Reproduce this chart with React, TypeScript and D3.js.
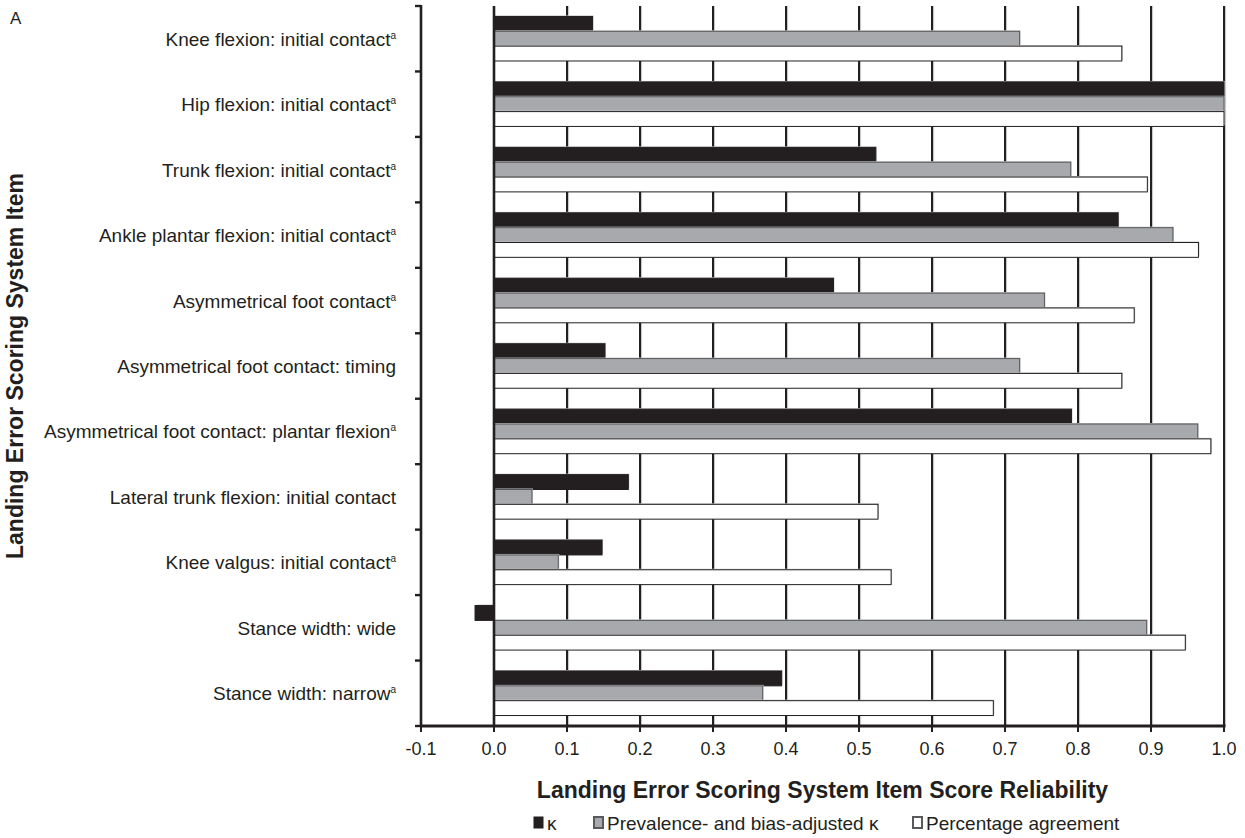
import React from "react";
import * as d3 from "d3";

// LESS item names (top to bottom) and whether they carry the "a" footnote marker
const items: string[] = [
  "Knee flexion: initial contact",
  "Hip flexion: initial contact",
  "Trunk flexion: initial contact",
  "Ankle plantar flexion: initial contact",
  "Asymmetrical foot contact",
  "Asymmetrical foot contact: timing",
  "Asymmetrical foot contact: plantar flexion",
  "Lateral trunk flexion: initial contact",
  "Knee valgus: initial contact",
  "Stance width: wide",
  "Stance width: narrow",
];
const footnoted: boolean[] = [true, true, true, true, true, false, true, false, true, false, true];

// Reliability statistics per item
const kappa: number[] = [0.135, 1.0, 0.523, 0.855, 0.465, 0.152, 0.791, 0.184, 0.148, -0.026, 0.394];
const pabak: number[] = [0.72, 1.0, 0.79, 0.93, 0.754, 0.72, 0.964, 0.052, 0.088, 0.894, 0.368];
const agreement: number[] = [0.86, 1.0, 0.895, 0.965, 0.877, 0.86, 0.982, 0.526, 0.544, 0.947, 0.684];

const xTicks: number[] = [-0.1, 0, 0.1, 0.2, 0.3, 0.4, 0.5, 0.6, 0.7, 0.8, 0.9, 1.0];
const seriesKeys: string[] = ["kappa", "pabak", "agreement"];
const seriesLabels: string[] = ["κ", "Prevalence- and bias-adjusted κ", "Percentage agreement"];

const INK = "#231f20";
const GREY = "#a7a9ac";
const EDGE = "#58595b";
const SHADE = "#c4c5c7";
const FONT = "'Liberation Sans', Arial, Helvetica, sans-serif";

const fills: Record<string, string> = { kappa: INK, pabak: GREY, agreement: "#ffffff" };
const strokes: Record<string, string> = { kappa: INK, pabak: EDGE, agreement: INK };

export default function App() {
  const width = 1245;
  const height = 838;
  const left = 421;
  const right = 1224;
  const top = 6;
  const bottom = 726;

  const x = d3.scaleLinear().domain([-0.1, 1.0]).range([left, right]);
  const y = d3
    .scaleBand<string>()
    .domain(items)
    .range([top, bottom])
    .paddingInner(0.32)
    .paddingOuter(0.16);
  const sub = d3.scaleBand<string>().domain(seriesKeys).range([0, y.bandwidth()]);
  const step = y.step();

  const rows = items.map((name, i) => ({
    name,
    values: { kappa: kappa[i], pabak: pabak[i], agreement: agreement[i] } as Record<string, number>,
  }));

  const boundaries = d3.range(items.length + 1).map((i) => top + i * step);
  const grid = xTicks.filter((t) => t > 0.001);

  return (
    <svg
      width={width}
      height={height}
      style={{ position: "absolute", left: 0, top: 0, background: "#fff" }}
      fontFamily={FONT}
    >
      <text x={10} y={24} fontSize={17} fill={INK}>A</text>

      {/* vertical gridlines */}
      {grid.map((t) => (
        <g key={"g" + t}>
          <line x1={x(t) + 1.6} x2={x(t) + 1.6} y1={top} y2={bottom} stroke={SHADE} strokeWidth={1} />
          <line x1={x(t)} x2={x(t)} y1={top} y2={bottom} stroke={INK} strokeWidth={2} />
        </g>
      ))}

      {/* bars */}
      {rows.map((r) => (
        <g key={r.name} transform={`translate(0,${y(r.name)})`}>
          {seriesKeys.map((k) => {
            const v = r.values[k];
            const x0 = x(Math.min(0, v));
            const x1 = x(Math.max(0, v));
            const yy = sub(k) as number;
            const h = sub.bandwidth();
            return (
              <g key={k}>
                <rect x={x0 + 1} y={yy - 1} width={x1 - x0} height={h} fill={SHADE} />
                <rect
                  x={x0}
                  y={yy}
                  width={x1 - x0}
                  height={h}
                  fill={fills[k]}
                  stroke={strokes[k]}
                  strokeWidth={1}
                />
              </g>
            );
          })}
        </g>
      ))}

      {/* zero line */}
      <line x1={x(0)} x2={x(0)} y1={top} y2={bottom} stroke={INK} strokeWidth={2.6} />

      {/* y axis with ticks at category boundaries */}
      <line x1={left} x2={left} y1={top - 1} y2={bottom} stroke={INK} strokeWidth={2.6} />
      {boundaries.map((b, i) => (
        <line key={"yt" + i} x1={left - 6} x2={left} y1={b} y2={b} stroke={INK} strokeWidth={2.4} />
      ))}

      {/* x axis */}
      <line x1={left - 1} x2={right + 1.5} y1={bottom} y2={bottom} stroke={INK} strokeWidth={3} />
      {xTicks.map((t) => (
        <g key={"xt" + t}>
          <line x1={x(t)} x2={x(t)} y1={bottom} y2={bottom + 6} stroke={INK} strokeWidth={2} />
          <text x={x(t)} y={bottom + 29} fontSize={18} fill={INK} textAnchor="middle">
            {t.toFixed(1)}
          </text>
        </g>
      ))}

      {/* category labels */}
      {rows.map((r, i) => (
        <text
          key={"lab" + r.name}
          x={396}
          y={(y(r.name) as number) + y.bandwidth() / 2 + 7}
          fontSize={19}
          fill={INK}
          textAnchor="end"
        >
          {r.name}
          {footnoted[i] ? (
            <tspan fontSize={10} dy={-7}>a</tspan>
          ) : null}
        </text>
      ))}

      {/* axis titles */}
      <text
        x={(left + right) / 2}
        y={798}
        fontSize={23}
        fontWeight="bold"
        fill={INK}
        textAnchor="middle"
      >
        Landing Error Scoring System Item Score Reliability
      </text>
      <text
        transform={`translate(23,${(top + bottom) / 2}) rotate(-90)`}
        fontSize={23}
        fontWeight="bold"
        fill={INK}
        textAnchor="middle"
      >
        Landing Error Scoring System Item
      </text>

      {/* legend */}
      {seriesKeys.map((k, i) => {
        const lx = [534, 594, 913][i];
        return (
          <g key={"leg" + k} transform={`translate(${lx},817)`}>
            <rect x={0} y={0} width={9} height={11} fill={fills[k]} stroke={k === "kappa" ? INK : EDGE} strokeWidth={k === "kappa" ? 1 : 2} />
            <text x={13} y={12.5} fontSize={19} fill={INK}>{seriesLabels[i]}</text>
          </g>
        );
      })}
    </svg>
  );
}
